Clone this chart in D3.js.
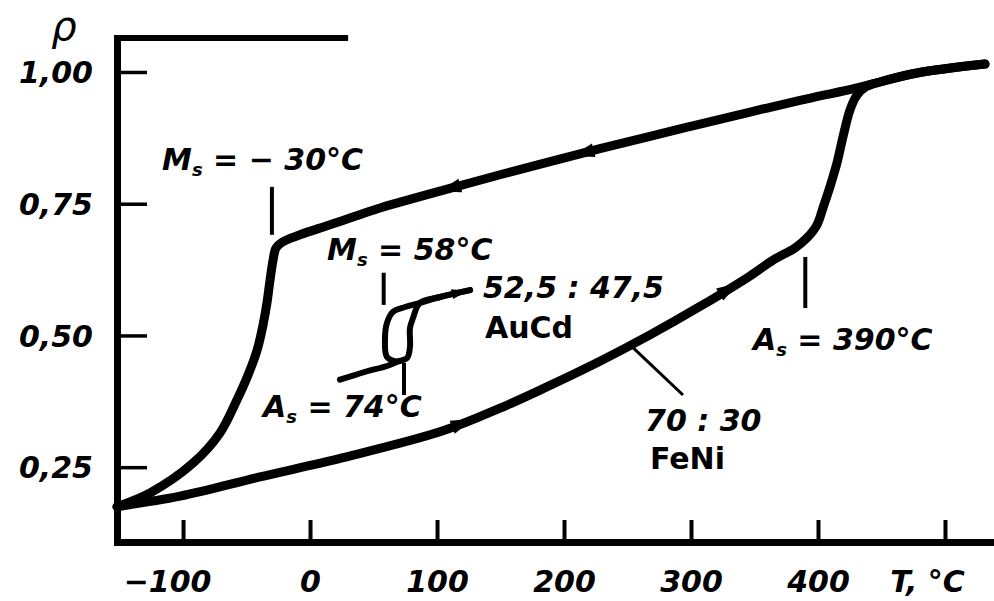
<!DOCTYPE html>
<html>
<head>
<meta charset="utf-8">
<script src="https://cdn.jsdelivr.net/npm/d3@7"></script>
<style>
  html, body { margin: 0; padding: 0; background: #fff; }
  svg { display: block; }
  text { font-family: "DejaVu Sans", "Liberation Sans", sans-serif; fill: #000; }
</style>
</head>
<body>
<svg id="chart" width="994" height="601"></svg>
<script>
// Relative electrical resistivity ρ versus temperature T (°C)
// FeNi 70:30 — heating branch (lower curve, then steep rise near As)
const feniHeatT   = [-152, -102.4, -39.4, 26, 104.7, 149.6, 183.5, 228.3, 267.7, 307.1, 346.5, 364.6, 381.9, 391.3, 399.2, 403.9, 409.4, 414.9, 419.7, 425.2, 430.7, 437.8, 448.8, 478, 531.5];
const feniHeatRho = [0.175, 0.195, 0.2315, 0.268, 0.319, 0.362, 0.399, 0.451, 0.501, 0.555, 0.613, 0.643, 0.666, 0.685, 0.710, 0.742, 0.782, 0.827, 0.877, 0.928, 0.956, 0.972, 0.981, 0.998, 1.015];

// FeNi 70:30 — cooling branch (upper line, then steep drop below Ms)
const feniCoolT   = [-152, -126, -92, -70.9, -57.5, -48.8, -41.7, -37, -33.9, -31.5, -29.1, -26.8, -22, -7.9, 15.7, 55.1, 70.9, 110.2, 149.6, 189, 228.3, 267.7, 307.1, 346.5, 385.8, 430.7, 448.8, 478, 531.5];
const feniCoolRho = [0.175, 0.201, 0.258, 0.315, 0.378, 0.425, 0.472, 0.520, 0.562, 0.605, 0.643, 0.666, 0.677, 0.691, 0.710, 0.742, 0.753, 0.779, 0.805, 0.830, 0.8545, 0.878, 0.901, 0.924, 0.946, 0.970, 0.981, 0.998, 1.015];

// AuCd 52,5:47,5 — narrow hysteresis loop
const aucdHeatT   = [23.6, 43.3, 60.6, 68.5, 76.4, 78.7, 78.7, 81.1, 86.6, 102.4, 126];
const aucdHeatRho = [0.416, 0.431, 0.442, 0.450, 0.457, 0.478, 0.514, 0.533, 0.562, 0.573, 0.586];
const aucdCoolT   = [126, 102.4, 86.6, 74.8, 65.4, 60.6, 59, 60.6, 68.5];
const aucdCoolRho = [0.586, 0.573, 0.562, 0.554, 0.545, 0.524, 0.491, 0.459, 0.450];

// Axis ticks
const tempTicks = [-100, 0, 100, 200, 300, 400, 500];
const tempTickLabels = ["−100", "0", "100", "200", "300", "400", "T, °C"];
const rhoTicks = [0.25, 0.50, 0.75, 1.00];
const rhoTickLabels = ["0,25", "0,50", "0,75", "1,00"];

// Transformation temperatures
const transitions = [
  { phase: "M", sub: "s", T: -30 },
  { phase: "M", sub: "s", T: 58 },
  { phase: "A", sub: "s", T: 74 },
  { phase: "A", sub: "s", T: 390 }
];

const svg = d3.select("#chart");
const x = d3.scaleLinear().domain([-152, 538.6]).range([117, 994]);
const y = d3.scaleLinear().domain([0.108, 1.0645]).range([542, 38]);

const zip = (a, b) => a.map((v, i) => [v, b[i]]);
const line = d3.line()
  .x(d => x(d[0]))
  .y(d => y(d[1]))
  .curve(d3.curveCatmullRom.alpha(0.5));

// ---- axes ----
const xAxis = d3.axisBottom(x)
  .tickValues(tempTicks)
  .tickFormat((d, i) => tempTickLabels[i])
  .tickSizeInner(-22)
  .tickSizeOuter(0);

const gx = svg.append("g").attr("transform", "translate(0,542)").call(xAxis);
gx.select(".domain").attr("stroke", "#000").attr("stroke-width", 7).attr("stroke-linecap", "square");
gx.selectAll(".tick line").attr("stroke", "#000").attr("stroke-width", 4);
gx.selectAll(".tick text")
  .attr("y", 50).attr("dy", null)
  .attr("font-size", 30).attr("font-weight", "bold").attr("font-style", "italic")
  .attr("dx", (d, i) => tempTickLabels[i].startsWith("−") ? -16 : (i === tempTickLabels.length - 1 ? -18 : 0));

const yAxis = d3.axisLeft(y)
  .tickValues(rhoTicks)
  .tickFormat((d, i) => rhoTickLabels[i])
  .tickSizeInner(-30)
  .tickSizeOuter(0)
  .tickPadding(24);

const gy = svg.append("g").attr("transform", "translate(117,0)").call(yAxis);
gy.select(".domain").attr("stroke", "#000").attr("stroke-width", 7).attr("stroke-linecap", "square");
gy.selectAll(".tick line").attr("stroke", "#000").attr("stroke-width", 3.5);
gy.selectAll(".tick text")
  .attr("dy", "0.36em")
  .attr("font-size", 30).attr("font-weight", "bold").attr("font-style", "italic");

// top frame segment
svg.append("line")
  .attr("x1", x.range()[0]).attr("x2", x(30))
  .attr("y1", y.range()[1]).attr("y2", y.range()[1])
  .attr("stroke", "#000").attr("stroke-width", 6);

// axis symbol
svg.append("text").attr("x", 64).attr("y", 40).attr("text-anchor", "middle")
  .attr("font-size", 40).attr("font-style", "italic").text("ρ");

// ---- curves ----
function drawCurve(T, R, width) {
  svg.append("path")
    .datum(zip(T, R))
    .attr("d", line)
    .attr("fill", "none")
    .attr("stroke", "#000")
    .attr("stroke-width", width)
    .attr("stroke-linejoin", "round")
    .attr("stroke-linecap", "round");
}
drawCurve(feniHeatT, feniHeatRho, 9);
drawCurve(feniCoolT, feniCoolRho, 9);
drawCurve(aucdHeatT, aucdHeatRho, 6);
drawCurve(aucdCoolT, aucdCoolRho, 6);

// direction arrows on the branches
function arrowAt(T, R, t, dir, len, hw) {
  const order = d3.range(T.length).sort((a, b) => T[a] - T[b]);
  const f = d3.scaleLinear().domain(order.map(i => T[i])).range(order.map(i => R[i]));
  const p0 = [x(t), y(f(t))];
  const p1 = [x(t + dir * 4), y(f(t + dir * 4))];
  const a = Math.atan2(p1[1] - p0[1], p1[0] - p0[0]);
  const ux = Math.cos(a), uy = Math.sin(a), nx = -uy, ny = ux;
  const tip = [p0[0] + ux * len / 2, p0[1] + uy * len / 2];
  const b = [p0[0] - ux * len / 2, p0[1] - uy * len / 2];
  svg.append("path")
    .attr("d", `M${tip}L${b[0] + nx * hw},${b[1] + ny * hw}L${b[0] - nx * hw},${b[1] - ny * hw}Z`)
    .attr("fill", "#000");
}
arrowAt(feniCoolT, feniCoolRho, 110, -1, 22, 7);
arrowAt(feniCoolT, feniCoolRho, 215, -1, 22, 7);
arrowAt(feniHeatT, feniHeatRho, 120, 1, 22, 7);
arrowAt(feniHeatT, feniHeatRho, 330, 1, 22, 7);
arrowAt(aucdHeatT, aucdHeatRho, 118, 1, 16, 5);

// ---- transformation markers ----
const pointerSpan = [
  [0.782, 0.691],
  [0.619, 0.558],
  [0.448, 0.387],
  [0.649, 0.552]
];
const labelAnchor = [
  [-116.5, 0.814],
  [13.4, 0.643],
  [-37, 0.345],
  [348.8, 0.4725]
];
const fmtT = v => (v < 0 ? "− " : "") + Math.abs(v);

transitions.forEach((tr, i) => {
  svg.append("line")
    .attr("x1", x(tr.T)).attr("x2", x(tr.T))
    .attr("y1", y(pointerSpan[i][0])).attr("y2", y(pointerSpan[i][1]))
    .attr("stroke", "#000").attr("stroke-width", 4);

  const t = svg.append("text")
    .attr("x", x(labelAnchor[i][0])).attr("y", y(labelAnchor[i][1]))
    .attr("font-size", 30).attr("font-weight", "bold").attr("font-style", "italic");
  t.append("tspan").text(tr.phase);
  t.append("tspan").attr("font-size", 18).attr("dy", 6).text(tr.sub);
  t.append("tspan").attr("dy", -6).text(` = ${fmtT(tr.T)}°C`);
});

// ---- alloy labels ----
svg.append("line")
  .attr("x1", x(252)).attr("y1", y(0.482))
  .attr("x2", x(293.7)).attr("y2", y(0.387))
  .attr("stroke", "#000").attr("stroke-width", 3);

function label(T, R, str, italic) {
  svg.append("text")
    .attr("x", x(T)).attr("y", y(R))
    .attr("font-size", 30).attr("font-weight", "bold")
    .attr("font-style", italic ? "italic" : "normal")
    .text(str);
}
label(136.2, 0.571, "52,5 : 47,5", true);
label(137.8, 0.495, "AuCd", false);
label(263.8, 0.319, "70 : 30", true);
label(267.7, 0.247, "FeNi", false);
</script>
</body>
</html>
